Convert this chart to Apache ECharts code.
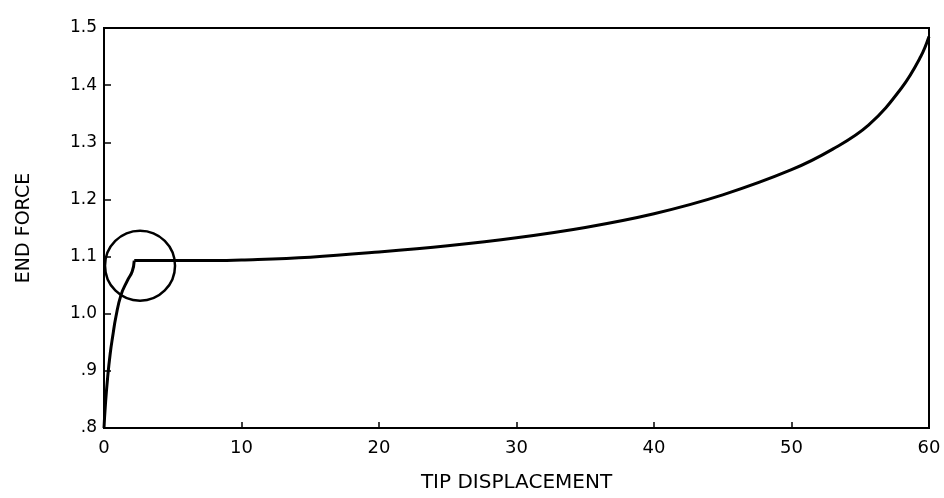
<!DOCTYPE html>
<html>
<head>
<meta charset="utf-8">
<script src="https://cdn.jsdelivr.net/npm/echarts@6/dist/echarts.min.js"></script>
<style>
  html, body { margin: 0; padding: 0; background: #fff; }
  #chart { width: 944px; height: 498px; }
</style>
</head>
<body>
<div id="chart"></div>
<script>
// values
// steep initial rise up to the knee
var riseX = [0, 0.1, 0.27, 0.45, 0.63, 0.87, 1.24, 1.7, 2.05, 2.2];
var riseY = [0.8, 0.84, 0.89, 0.93, 0.96, 0.995, 1.033, 1.058, 1.074, 1.093];
// plateau and stiffening branch from the knee to the end
var plateauX = [2.2, 3, 5, 8, 10, 15, 20, 25, 30, 35, 40, 45, 50, 53, 55.6, 58, 59.4, 60];
var plateauY = [1.093, 1.093, 1.093, 1.093, 1.094, 1.099, 1.108, 1.119, 1.133, 1.151, 1.175, 1.208, 1.252, 1.288, 1.33, 1.395, 1.45, 1.485];
// circled point near the knee of the curve
var circleMark = [[2.62, 1.084]];

function pairs(xs, ys) {
    return xs.map(function (x, i) { return [x, ys[i]]; });
}

var chart = echarts.init(document.getElementById('chart'));
var fontFam = 'DejaVu Sans, Verdana, sans-serif';
var curveStyle = { color: '#000', width: 3 };

chart.setOption({
    animation: false,
    backgroundColor: '#fff',
    grid: {
        left: 104, right: 15, top: 28, bottom: 68,
        show: true, borderColor: '#000', borderWidth: 2
    },
    xAxis: {
        type: 'value',
        min: 0, max: 60, interval: 10,
        name: 'TIP DISPLACEMENT',
        nameLocation: 'middle',
        nameGap: 45,
        nameTextStyle: { color: '#000', fontSize: 20, fontFamily: fontFam },
        axisLine: { show: true, lineStyle: { color: '#000', width: 2 } },
        axisTick: { show: true, inside: true, length: 6, lineStyle: { color: '#000', width: 1.5 } },
        axisLabel: { color: '#000', fontSize: 18, fontFamily: fontFam, margin: 11 },
        splitLine: { show: false }
    },
    yAxis: {
        type: 'value',
        min: 0.8, max: 1.5, interval: 0.1,
        name: 'END FORCE',
        nameLocation: 'middle',
        nameGap: 70,
        nameRotate: 90,
        nameTextStyle: { color: '#000', fontSize: 19, fontFamily: fontFam },
        axisLine: { show: true, lineStyle: { color: '#000', width: 2 } },
        axisTick: { show: true, inside: true, length: 7, lineStyle: { color: '#000', width: 1.5 } },
        axisLabel: {
            color: '#000', fontSize: 17, fontFamily: fontFam, margin: 7,
            formatter: function (v) {
                var s = v.toFixed(1);
                return s.charAt(0) === '0' ? s.substring(1) : s;
            }
        },
        splitLine: { show: false }
    },
    series: [
        {
            type: 'line',
            data: pairs(riseX, riseY),
            showSymbol: false,
            smooth: 0.5,
            lineStyle: curveStyle
        },
        {
            type: 'line',
            data: pairs(plateauX, plateauY),
            showSymbol: false,
            smooth: 0.4,
            lineStyle: curveStyle
        },
        {
            type: 'scatter',
            data: circleMark,
            symbol: 'circle',
            symbolSize: 70,
            itemStyle: { color: 'rgba(0,0,0,0)', borderColor: '#000', borderWidth: 2.5, opacity: 1 }
        }
    ]
});
</script>
</body>
</html>
